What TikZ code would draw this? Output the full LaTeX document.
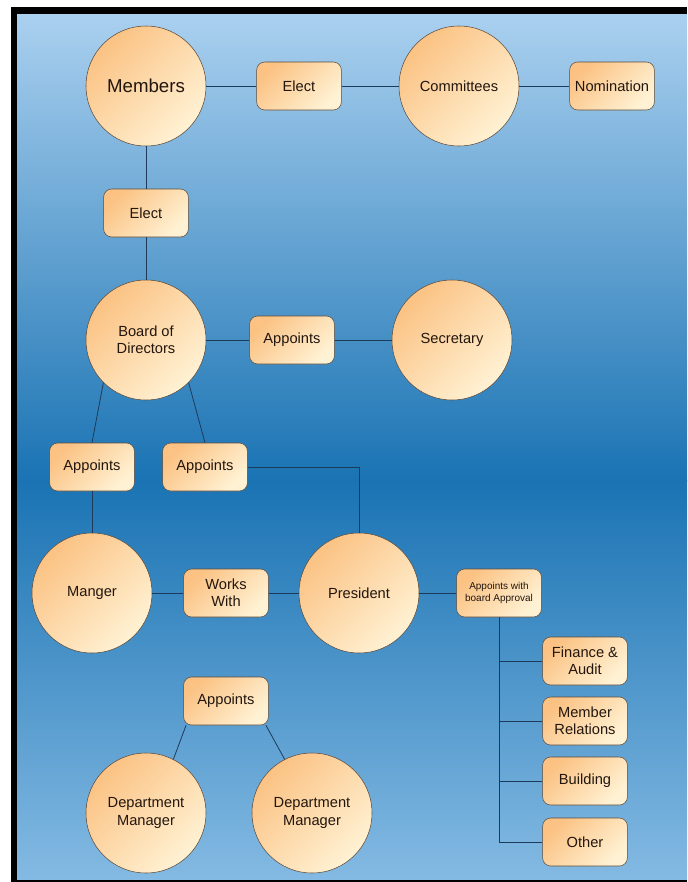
\documentclass[tikz,border=0pt]{standalone}
\usepackage{fontspec}
\setmainfont{Liberation Sans}
\usetikzlibrary{positioning, calc}
\definecolor{skytop}{HTML}{AAD0EF}
\definecolor{deepblue}{HTML}{1A73B3}
\definecolor{skybottom}{HTML}{84BAE3}
\definecolor{peach}{HTML}{FBC283}
\definecolor{cream}{HTML}{FFF2D4}
\definecolor{edge}{HTML}{5C4A3A}
\definecolor{wire}{HTML}{1E3A5A}
\definecolor{ink}{HTML}{22160E}
\tikzset{
  unit/.style={circle, minimum size=90pt, inner sep=1pt, draw=edge, left color=peach, right color=cream,
               shading angle=45, font=\fontsize{11}{13}\selectfont, text=ink, align=center},
  unitbig/.style={unit, font=\fontsize{14}{16}\selectfont},
  tag/.style={rectangle, rounded corners=6pt, minimum width=63.5pt, minimum height=36pt, inner sep=2pt,
              draw=edge, left color=peach, right color=cream, shading angle=45,
              font=\fontsize{11}{13}\selectfont, text=ink, align=center},
  tagsmall/.style={tag, font=\fontsize{7.5}{9.5}\selectfont},
  conn/.style={draw=wire, line width=0.6pt}
}
\begin{document}
\begin{tikzpicture}[x=0.75pt, y=-0.75pt]
  \useasboundingbox (0,0) rectangle (687,882);
  % fondo y marco
  \shade [top color=skytop, bottom color=deepblue] (17,14) rectangle (687,481);
  \shade [top color=deepblue, bottom color=skybottom] (17,480) rectangle (687,880);
  \fill [black] (11,7) rectangle (687,14);
  \fill [black] (11,7) rectangle (17,882);
  \fill [black] (11,879.5) rectangle (687,882);

  \node (members) [unitbig] at (146,86) {Members};
  \node (elect1) [tag] at (299,86) {Elect};
  \node (committees) [unit] at (459,86) {Committees};
  \node (nomination) [tag] at (612,86) {Nomination};
  \node (elect2) [tag] at (146,213) {Elect};
  \node (board) [unit] at (146,340) {Board of\\ Directors};
  \node (appsec) [tag] at (292,340) {Appoints};
  \node (secretary) [unit] at (452,340) {Secretary};
  \node (appman) [tag] at (92,467) {Appoints};
  \node (apppres) [tag] at (205,467) {Appoints};
  \node (manger) [unit] at (92,593) {Manger};
  \node (works) [tag] at (226,593) {Works\\ With};
  \node (president) [unit] at (359,593) {President};
  \node (appboard) [tagsmall] at (499,593) {Appoints with\\ board Approval};
  \node (finance) [tag] at (585,661) {Finance \&\\ Audit};
  \node (relations) [tag] at (585,721) {Member\\ Relations};
  \node (building) [tag] at (585,781) {Building};
  \node (other) [tag] at (585,842) {Other};
  \node (appdept) [tag] at (226,701) {Appoints};
  \node (dept1) [unit] at (146,813) {Department\\ Manager};
  \node (dept2) [unit] at (312,813) {Department\\ Manager};

  \draw [conn] (members) -- (elect1);
  \draw [conn] (elect1) -- (committees);
  \draw [conn] (committees) -- (nomination);
  \draw [conn] (members) -- (elect2);
  \draw [conn] (elect2) -- (board);
  \draw [conn] (board) -- (appsec);
  \draw [conn] (appsec) -- (secretary);
  \draw [conn] (board.225) -- (appman.north);
  \draw [conn] (board.-45) -- (apppres.north);
  \draw [conn] (appman) -- (manger);
  \draw [conn] (apppres.east) -| (president.north);
  \draw [conn] (manger) -- (works);
  \draw [conn] (works) -- (president);
  \draw [conn] (president) -- (appboard);
  \foreach \k in {finance,relations,building,other}
    \draw [conn] (appboard.south) |- (\k.west);
  \draw [conn] ([xshift=2pt]appdept.south west) -- (dept1.63);
  \draw [conn] ([xshift=-2pt]appdept.south east) -- (dept2.117);
\end{tikzpicture}
\end{document}
